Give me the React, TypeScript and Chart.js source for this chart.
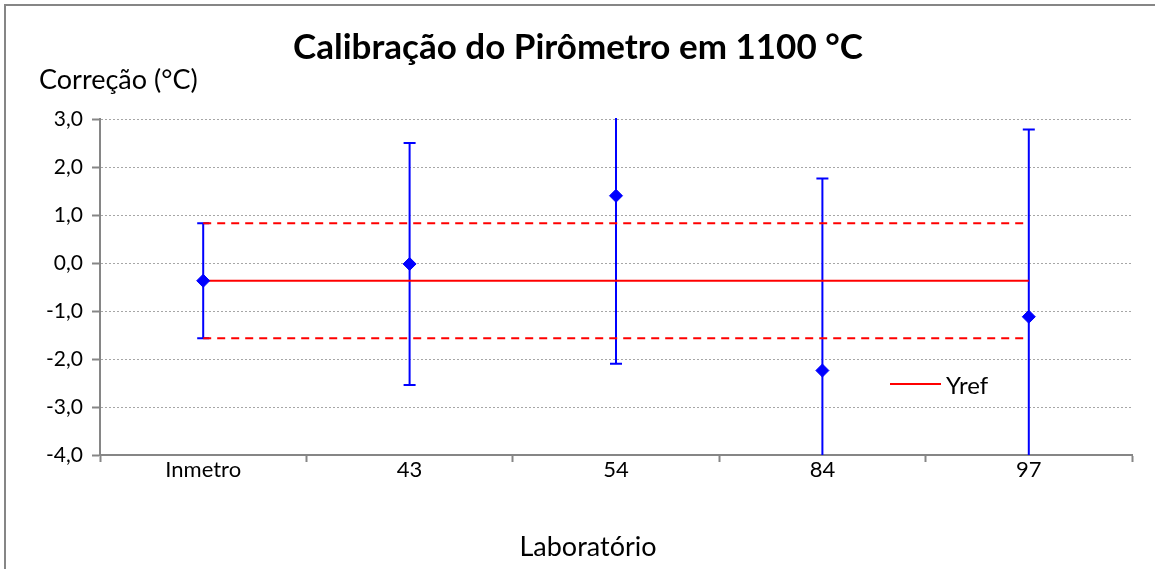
import React, { useEffect, useRef } from "react";
import { Chart, registerables } from "chart.js";

Chart.register(...registerables);

const categories = ["Inmetro", "43", "54", "84", "97"];
const corrections = [-0.37, -0.02, 1.4, -2.24, -1.12];
const uncertainties = [1.2, 2.52, 3.5, 4.0, 3.9];
const yRef = -0.37;
const yRefUncertainty = 1.2;
const yTickMin = -4;
const yTickMax = 3;
const yTickStep = 1;

const titleText = "Calibração do Pirômetro em 1100 °C";
const yTitleText = "Correção (°C)";
const xTitleText = "Laboratório";
const legendText = "Yref";

const FONT = "Lato, 'Open Sans', sans-serif";

export default function App() {
  const ref = useRef<HTMLCanvasElement | null>(null);

  useEffect(() => {
    const canvas = ref.current;
    if (!canvas) return;

    const yrefLine = categories.map(() => yRef);
    const upperLine = categories.map(() => yRef + yRefUncertainty);
    const lowerLine = categories.map(() => yRef - yRefUncertainty);

    const errorBars = {
      id: "errorBars",
      beforeDatasetsDraw(chart: any) {
        const { ctx, chartArea, scales } = chart;
        const x = scales.x;
        const y = scales.y;
        ctx.save();
        ctx.beginPath();
        ctx.rect(chartArea.left, chartArea.top - 1, chartArea.right - chartArea.left, chartArea.bottom - chartArea.top + 1);
        ctx.clip();
        ctx.strokeStyle = "#0000FF";
        ctx.lineWidth = 2;
        corrections.forEach((v, i) => {
          const px = x.getPixelForValue(i);
          const top = y.getPixelForValue(v + uncertainties[i]);
          const bot = y.getPixelForValue(v - uncertainties[i]);
          ctx.beginPath();
          ctx.moveTo(px, top);
          ctx.lineTo(px, bot);
          ctx.moveTo(px - 6, top);
          ctx.lineTo(px + 6, top);
          ctx.moveTo(px - 6, bot);
          ctx.lineTo(px + 6, bot);
          ctx.stroke();
        });
        ctx.restore();
      },
    };

    const texts = {
      id: "texts",
      beforeDraw(chart: any) {
        const { ctx } = chart;
        ctx.save();
        ctx.fillStyle = "#fff";
        ctx.fillRect(0, 0, chart.width, chart.height);
        ctx.strokeStyle = "#868686";
        ctx.lineWidth = 2;
        ctx.strokeRect(5, 5, 1400, 900);
        ctx.restore();
      },
      afterDraw(chart: any) {
        const { ctx } = chart;
        ctx.save();
        ctx.fillStyle = "#000";
        ctx.textBaseline = "middle";
        ctx.textAlign = "center";
        ctx.font = `bold 35px ${FONT}`;
        ctx.fillText(titleText, 578, 48);
        ctx.textAlign = "left";
        ctx.font = `27px ${FONT}`;
        ctx.fillText(yTitleText, 39, 80);
        ctx.textAlign = "center";
        ctx.fillText(xTitleText, 588, 547);
        // legend
        ctx.strokeStyle = "#FF0000";
        ctx.lineWidth = 2;
        ctx.beginPath();
        ctx.moveTo(890, 384);
        ctx.lineTo(941, 384);
        ctx.stroke();
        ctx.textAlign = "left";
        ctx.font = `24px ${FONT}`;
        ctx.fillText(legendText, 946, 386);
        ctx.restore();
      },
    };

    const chart = new Chart(canvas, {
      type: "line",
      data: {
        labels: categories,
        datasets: [
          {
            label: "Laboratórios",
            data: corrections,
            showLine: false,
            pointStyle: "rectRot",
            pointRadius: 6.5,
            pointBackgroundColor: "#0000FF",
            pointBorderColor: "#0000FF",
            borderColor: "#0000FF",
            order: 0,
          },
          {
            label: "Yref",
            data: yrefLine,
            borderColor: "#FF0000",
            borderWidth: 2,
            pointRadius: 0,
            order: 1,
          },
          {
            label: "Yref + U",
            data: upperLine,
            borderColor: "#FF0000",
            borderWidth: 2,
            borderDash: [8, 6],
            pointRadius: 0,
            order: 1,
          },
          {
            label: "Yref - U",
            data: lowerLine,
            borderColor: "#FF0000",
            borderWidth: 2,
            borderDash: [8, 6],
            pointRadius: 0,
            order: 1,
          },
        ],
      },
      options: {
        responsive: false,
        animation: false,
        events: [],
        layout: { padding: { left: 0, top: 119, right: 23, bottom: 0 } },
        plugins: {
          legend: { display: false },
          title: { display: false },
          tooltip: { enabled: false },
        },
        scales: {
          x: {
            offset: true,
            grid: {
              offset: true,
              drawOnChartArea: false,
              drawTicks: true,
              tickLength: 7,
              tickColor: "#868686",
              tickWidth: 2,
            },
            border: { color: "#868686", width: 2 },
            ticks: {
              color: "#000",
              font: { family: FONT, size: 22 },
              padding: -5,
            },
            afterFit(scale: any) {
              scale.height = 114;
            },
          },
          y: {
            min: yTickMin,
            max: yTickMax,
            grid: {
              color: "#a6a6a6",
              lineWidth: 1,
              drawTicks: true,
              tickLength: 8,
              tickColor: "#868686",
              tickWidth: 2,
              tickBorderDash: [],
            },
            border: { color: "#868686", width: 2, dash: [2, 2] },
            ticks: {
              stepSize: yTickStep,
              color: "#000",
              font: { family: FONT, size: 21 },
              padding: 9,
              callback: (v: any) => Number(v).toFixed(1).replace(".", ","),
            },
            afterFit(scale: any) {
              scale.width = 100;
            },
          },
        },
      },
      plugins: [texts, errorBars],
    });

    return () => chart.destroy();
  }, []);

  return (
    <div style={{ position: "fixed", left: 0, top: 0, width: 1155, height: 569, background: "#fff" }}>
      <canvas ref={ref} width={1155} height={569} />
    </div>
  );
}
